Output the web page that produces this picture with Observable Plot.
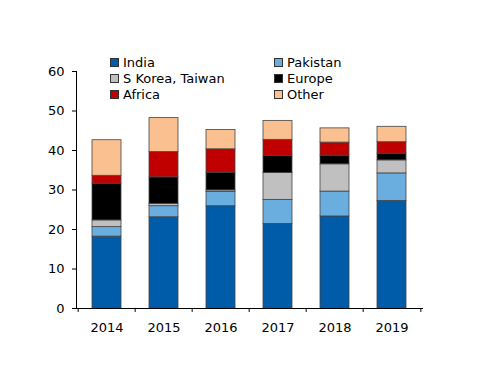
<!DOCTYPE html>
<html>
<head>
<meta charset="utf-8">
<script src="https://cdn.jsdelivr.net/npm/d3@7"></script>
<script src="https://cdn.jsdelivr.net/npm/@observablehq/plot@0.6"></script>
<style>
  body { margin: 0; background: #fff; }
  #wrap { position: relative; width: 500px; height: 386px; font-family: "DejaVu Sans", Verdana, sans-serif; }
  #legend { position: absolute; left: 0; top: 0; width: 500px; height: 0; }
  .item { position: absolute; font-size: 13px; line-height: 16px; color: #000; white-space: nowrap; }
  .sw { display: inline-block; width: 7px; height: 7px; border: 1px solid #333; margin-right: 4px; vertical-align: 0px; }
</style>
</head>
<body>
<div id="wrap"><div id="legend"></div></div>
<script>
const years = ["2014", "2015", "2016", "2017", "2018", "2019"];
const series = ["India", "Pakistan", "S Korea, Taiwan", "Europe", "Africa", "Other"];
const colors = ["#005ba8", "#6aaee0", "#c0c0c0", "#000000", "#c00000", "#fac090"];
const india    = [18.2, 23.1, 25.9, 21.4, 23.3, 27.2];
const pakistan = [2.4, 2.8, 3.6, 6.1, 6.3, 7.0];
const skorea   = [1.7, 0.6, 0.4, 6.8, 6.9, 3.3];
const europe   = [9.3, 6.7, 4.5, 4.3, 2.2, 1.7];
const africa   = [2.0, 6.4, 5.9, 4.1, 3.3, 2.9];
const other    = [9.0, 8.6, 4.9, 4.8, 3.6, 3.9];
const yTicks = [0, 10, 20, 30, 40, 50, 60];

const values = [india, pakistan, skorea, europe, africa, other];
const data = [];
series.forEach((s, i) => years.forEach((y, j) => data.push({year: y, series: s, value: values[i][j]})));

const W = 500, H = 386, mL = 76, mR = 78, mT = 71, mB = 78;
const step = (W - mL - mR) / years.length;

const chart = Plot.plot({
  width: W, height: H,
  marginLeft: mL, marginRight: mR, marginTop: mT, marginBottom: mB,
  style: {fontFamily: "DejaVu Sans, Verdana, sans-serif", fontSize: "13px", color: "#000", background: "#fff"},
  x: {domain: years, paddingInner: 0.5, paddingOuter: 0.25, label: null},
  y: {domain: [0, 60], label: null},
  color: {domain: series, range: colors},
  marks: [
    Plot.barY(data, Plot.stackY({order: series}, {x: "year", y: "value", fill: "series", stroke: "#444", strokeWidth: 0.8})),
    Plot.frame({anchor: "left", stroke: "#000"}),
    Plot.frame({anchor: "bottom", stroke: "#000"}),
    Plot.axisY({ticks: yTicks, tickSize: 4, tickPadding: 8, fontSize: 13, label: null, stroke: "#000"}),
    Plot.axisX({tickSize: 0, tickPadding: 14, fontSize: 13, label: null}),
    Plot.ruleX(years, {x: d => d, y1: 0, y2: -1, dx: -step / 2, stroke: "#000"}),
    Plot.ruleX(years.slice(-1), {x: d => d, y1: 0, y2: -1, dx: step / 2, stroke: "#000"})
  ]
});
document.getElementById("wrap").prepend(chart);
chart.style.position = "absolute";
chart.style.left = "0";
chart.style.top = "0";

const legend = document.getElementById("legend");
const order = [0, 1, 2, 3, 4, 5];
order.forEach(i => {
  const col = i % 2, row = Math.floor(i / 2);
  const el = document.createElement("div");
  el.className = "item";
  el.style.left = (col ? 274 : 110) + "px";
  el.style.top = (55 + row * 16) + "px";
  el.innerHTML = `<span class="sw" style="background:${colors[i]}"></span>${series[i]}`;
  legend.appendChild(el);
});
</script>
</body>
</html>
